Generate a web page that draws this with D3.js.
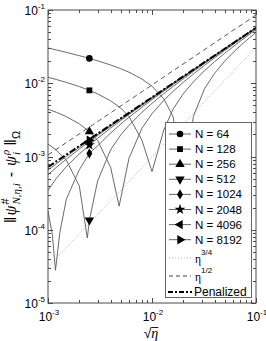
<!DOCTYPE html>
<html><head><meta charset="utf-8">
<script src="https://cdn.jsdelivr.net/npm/d3@7"></script>
<style>body{margin:0;background:#fff}svg{display:block}</style>
</head><body><svg id="c" width="266" height="341"></svg>
<script>
// ---- data (errors in units of 1e-3) ----
const unit = 1e-3;
const grid = [0.001,0.0012,0.0015,0.002,0.0025,0.003,0.004,0.005,0.006,0.008,0.01,0.013,0.016,0.02,0.025,0.032,0.04,0.05,0.063,0.08,0.1];
const x64 = [0.001,0.0012,0.0015,0.002,0.0025,0.003,0.004,0.005,0.006,0.008,0.01,0.013,0.016,0.0203,0.025,0.032,0.04,0.05,0.063,0.08,0.1];
const e64 = [30.28,28.49,26.39,23.79,21.83,20.25,17.77,15.81,14.16,11.42,9.12,6.12,3.46,0.3,3.52,8.42,13.70,20.03,27.94,37.94,49.40];
const x128 = grid;
const e128 = [12.08,11.26,10.28,9.01,8.00,7.16,5.76,4.58,3.53,1.67,0.62,2.31,4.46,7.19,10.45,14.85,19.72,25.65,33.19,42.83,53.98];
const x256 = [0.001,0.0012,0.0015,0.002,0.0025,0.003,0.004,0.00483,0.006,0.008,0.01,0.013,0.016,0.02,0.025,0.032,0.04,0.05,0.063,0.08,0.1];
const e256 = [4.43,4.02,3.50,2.79,2.19,1.66,0.711,0.21,0.941,2.43,3.84,5.85,7.79,10.30,13.36,17.56,22.25,28.02,35.39,44.89,55.90];
const x512 = [0.001,0.0012,0.0015,0.002,0.00239,0.0025,0.003,0.004,0.005,0.006,0.008,0.01,0.013,0.016,0.02,0.025,0.032,0.04,0.05,0.063,0.08,0.1];
const e512 = [1.48,1.227,0.890,0.396,0.077,0.135,0.463,1.235,1.964,2.665,4.012,5.314,7.218,9.07,11.50,14.48,18.60,23.22,28.93,36.25,45.68,56.64];
const x1024 = [0.001,0.0011,0.00118,0.0013,0.0015,0.002,0.0025,0.003,0.004,0.005,0.006,0.008,0.01,0.013,0.016,0.02,0.025,0.032,0.04,0.05,0.063,0.08,0.1];
const e1024 = [0.18,0.0866,0.028,0.092,0.261,0.660,1.10,1.398,2.093,2.766,3.424,4.709,5.966,7.82,9.64,12.03,14.98,19.06,23.65,29.33,36.62,46.03,56.96];
const x2048 = grid;
const e2048 = [0.345,0.501,0.726,1.086,1.434,1.775,2.44,3.09,3.73,4.99,6.23,8.06,9.87,12.25,15.18,19.25,23.83,29.49,36.77,46.17,57.10];
const x4096 = grid;
const e4096 = [0.564,0.708,0.920,1.264,1.600,1.933,2.584,3.225,3.859,5.107,6.339,8.165,9.96,12.34,15.26,19.33,23.90,29.56,36.84,46.23,57.15];
const x8192 = grid;
const e8192 = [0.655,0.794,1.000,1.338,1.670,1.998,2.644,3.281,3.912,5.156,6.384,8.207,10.00,12.37,15.30,19.36,23.93,29.59,36.86,46.25,57.17];
const xPen = grid;
const ePen = [0.720,0.856,1.058,1.391,1.719,2.045,2.687,3.321,3.950,5.191,6.417,8.237,10.03,12.40,15.32,19.38,23.95,29.61,36.88,46.27,57.19];
const refX = [0.001, 0.1];
const eta34 = [0.031, 31];   // η^{3/4}
const eta12 = [1.05, 85.5];  // η^{1/2}
const markerX = 0.0025;
const labels = ["N = 64","N = 128","N = 256","N = 512","N = 1024","N = 2048","N = 4096","N = 8192"];
const xTicks = [1e-3,1e-2,1e-1];
const xTickExp = ["-3","-2","-1"];
const yTicks = [1e-5,1e-4,1e-3,1e-2,1e-1];
const yTickExp = ["-5","-4","-3","-2","-1"];

// ---- layout ----
const L=48,R=256,T=10,B=303;
const sans = "'Liberation Sans', Arial, Helvetica, sans-serif";
const serif = "'Liberation Serif', 'Times New Roman', serif";
const x = d3.scaleLog().domain([1e-3,1e-1]).range([L,R]);
const y = d3.scaleLog().domain([1e-5,1e-1]).range([B,T]);
const svg = d3.select('#c');
svg.append('rect').attr('width',266).attr('height',341).attr('fill','#fff');

const series = [
  {x:x64,e:e64,sym:d3.symbolCircle,size:34,rot:0},
  {x:x128,e:e128,sym:d3.symbolSquare,size:34,rot:0},
  {x:x256,e:e256,sym:d3.symbolTriangle,size:38,rot:0},
  {x:x512,e:e512,sym:d3.symbolTriangle,size:38,rot:180},
  {x:x1024,e:e1024,sym:d3.symbolDiamond,size:30,rot:0},
  {x:x2048,e:e2048,sym:d3.symbolStar,size:36,rot:0},
  {x:x4096,e:e4096,sym:d3.symbolTriangle,size:38,rot:-90},
  {x:x8192,e:e8192,sym:d3.symbolTriangle,size:38,rot:90}
];

svg.append('clipPath').attr('id','pc').append('rect')
  .attr('x',L).attr('y',T).attr('width',R-L).attr('height',B-T);
const plot = svg.append('g').attr('clip-path','url(#pc)');
const line = d3.line().x(d=>x(d[0])).y(d=>y(d[1]));

plot.append('path').datum(d3.zip(refX, eta34.map(v=>v*unit))).attr('d',line)
  .attr('fill','none').attr('stroke','#a8a8a8').attr('stroke-width',1).attr('stroke-dasharray','1,2');
plot.append('path').datum(d3.zip(refX, eta12.map(v=>v*unit))).attr('d',line)
  .attr('fill','none').attr('stroke','#444').attr('stroke-width',0.9).attr('stroke-dasharray','5,3.5');

series.forEach(s=>{
  plot.append('path').datum(d3.zip(s.x, s.e.map(v=>v*unit))).attr('d',line)
    .attr('fill','none').attr('stroke','#595959').attr('stroke-width',0.9);
});
plot.append('path').datum(d3.zip(xPen, ePen.map(v=>v*unit))).attr('d',line)
  .attr('fill','none').attr('stroke','#000').attr('stroke-width',2).attr('stroke-dasharray','7,2,2,2');

series.forEach(s=>{
  const i = s.x.indexOf(markerX);
  svg.append('path').attr('d', d3.symbol().type(s.sym).size(s.size)())
    .attr('transform',`translate(${x(markerX)},${y(s.e[i]*unit)}) rotate(${s.rot})`)
    .attr('fill','#000');
});

// ---- frame and ticks ----
const ax = svg.append('g').attr('stroke','#4a4a4a').attr('stroke-width',1);
ax.append('rect').attr('x',L).attr('y',T).attr('width',R-L).attr('height',B-T).attr('fill','none');
const isMajor = v => Math.abs(Math.log10(v) - Math.round(Math.log10(v))) < 1e-9;
x.ticks().forEach(v=>{
  const px = Math.round(x(v))+0.5, len = isMajor(v)?5:3;
  ax.append('line').attr('x1',px).attr('x2',px).attr('y1',B).attr('y2',B-len);
  ax.append('line').attr('x1',px).attr('x2',px).attr('y1',T).attr('y2',T+len);
});
y.ticks().forEach(v=>{
  const py = Math.round(y(v))+0.5, len = isMajor(v)?5:3;
  ax.append('line').attr('y1',py).attr('y2',py).attr('x1',L).attr('x2',L+len);
  ax.append('line').attr('y1',py).attr('y2',py).attr('x1',R).attr('x2',R-len);
});

// tick labels
yTicks.forEach((v,i)=>{
  const t = svg.append('text').attr('x',45).attr('y',y(v)+5).attr('text-anchor','end')
    .attr('font-family',sans).attr('font-size',12).attr('fill','#000');
  t.append('tspan').text('10');
  t.append('tspan').attr('dy',-6).attr('font-size',8).text(yTickExp[i]);
});
xTicks.forEach((v,i)=>{
  const t = svg.append('text').attr('x',x(v)+1).attr('y',321).attr('text-anchor','middle')
    .attr('font-family',sans).attr('font-size',12).attr('fill','#000');
  t.append('tspan').text('10');
  t.append('tspan').attr('dy',-6).attr('font-size',8).text(xTickExp[i]);
});

// x title √η
const xt = svg.append('text').attr('x',151).attr('y',338).attr('text-anchor','middle')
  .attr('font-family',sans).attr('font-size',14).attr('fill','#000');
xt.append('tspan').text('√');
xt.append('tspan').attr('font-family',serif).attr('font-style','italic').text('η');
{
  const n = xt.node();
  const st = n.getStartPositionOfChar(1), en = n.getEndPositionOfChar(1);
  svg.append('line').attr('x1',st.x).attr('x2',en.x).attr('y1',327.5).attr('y2',327.5)
    .attr('stroke','#000').attr('stroke-width',0.9);
}

// y title
const tg = svg.append('g').attr('transform','translate(16,177) rotate(-90)');
const inner = tg.append('g');
let cx = 0;
function piece(txt, size, dy, italic, fam){
  const t = inner.append('text').attr('x',cx).attr('y',dy).attr('font-size',size)
    .attr('font-family',fam||sans).attr('font-style',italic?'italic':'normal').attr('fill','#000').text(txt);
  return t.node().getComputedTextLength();
}
cx += piece('‖',16,0,false) + 1;
cx += piece('ψ',16,0,true,serif) + 1;
{ const a = piece('#',11,-7,false); const b = piece('N,η,i',11,4,true,serif); cx += Math.max(a,b) + 6; }
cx += piece('-',16,0,false) + 6;
cx += piece('ψ',16,0,true,serif) + 1;
{ const a = piece('ρ',11,-7,true,serif); const b = piece('i',11,4,true,serif); cx += Math.max(a,b) + 4; }
cx += piece('‖',16,0,false);
cx += piece('Ω',11,4,false);
inner.attr('transform',`translate(${-cx/2},0)`);

// ---- legend ----
const lg = svg.append('g');
lg.append('rect').attr('x',165.5).attr('y',122.5).attr('width',86).attr('height',175)
  .attr('fill','#fff').attr('stroke','#666').attr('stroke-width',1);
series.forEach((s,i)=>{
  const yy = 134 + 15.1*i;
  lg.append('line').attr('x1',169).attr('x2',191).attr('y1',yy).attr('y2',yy).attr('stroke','#555').attr('stroke-width',0.9);
  lg.append('path').attr('d', d3.symbol().type(s.sym).size(s.size)())
    .attr('transform',`translate(180,${yy}) rotate(${s.rot})`).attr('fill','#000');
  lg.append('text').attr('x',195).attr('y',yy+4).attr('font-family',sans).attr('font-size',11.5).attr('fill','#000').text(labels[i]);
});
// η^{3/4}
lg.append('line').attr('x1',169).attr('x2',191).attr('y1',258).attr('y2',258).attr('stroke','#a8a8a8').attr('stroke-dasharray','1,2');
{ const t = lg.append('text').attr('x',195).attr('y',263).attr('font-family',sans).attr('font-size',11.5).attr('fill','#000');
  t.append('tspan').attr('font-family',serif).text('η'); t.append('tspan').attr('dy',-8).attr('font-size',8).text('3/4'); }
lg.append('line').attr('x1',169).attr('x2',191).attr('y1',276).attr('y2',276).attr('stroke','#444').attr('stroke-dasharray','4,3');
{ const t = lg.append('text').attr('x',195).attr('y',281).attr('font-family',sans).attr('font-size',11.5).attr('fill','#000');
  t.append('tspan').attr('font-family',serif).text('η'); t.append('tspan').attr('dy',-8).attr('font-size',8).text('1/2'); }
lg.append('line').attr('x1',168).attr('x2',192).attr('y1',292).attr('y2',292).attr('stroke','#000').attr('stroke-width',1.8).attr('stroke-dasharray','5,2,2,2');
lg.append('text').attr('x',194).attr('y',296).attr('font-family',sans).attr('font-size',12).attr('fill','#000').text('Penalized');
</script>
</body></html>
